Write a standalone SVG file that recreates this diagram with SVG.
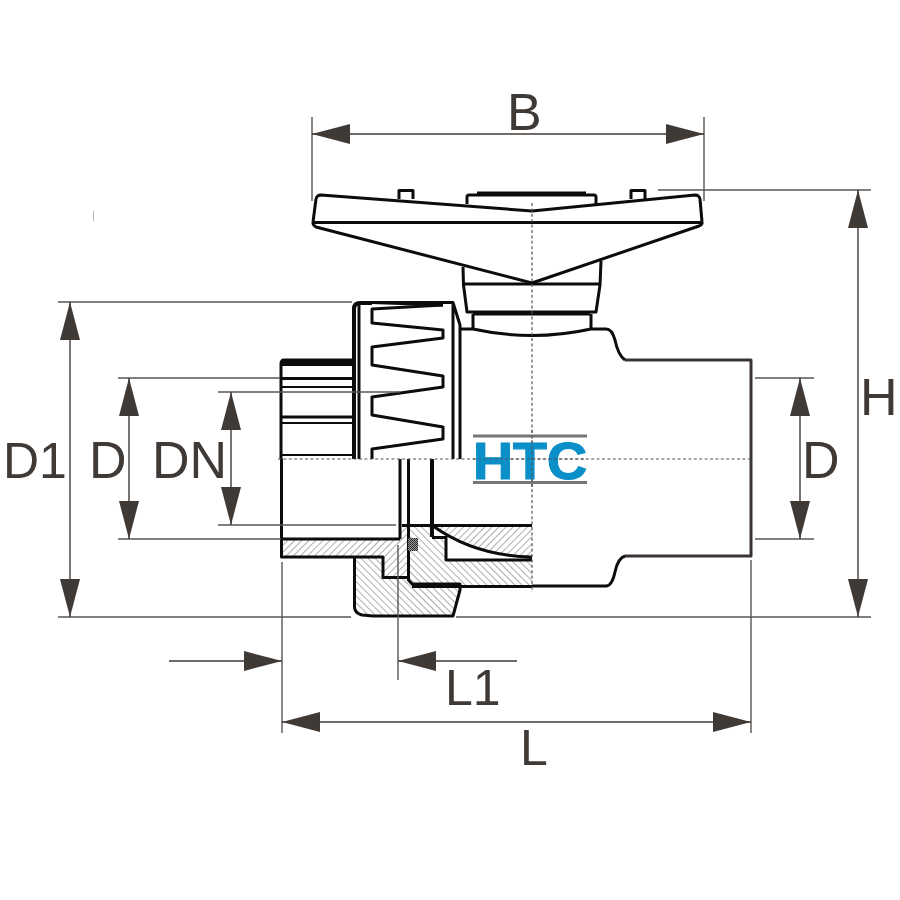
<svg xmlns="http://www.w3.org/2000/svg" width="900" height="900" viewBox="0 0 900 900">
<style>
.k{fill:none;stroke:#0d0b0b;stroke-width:3;stroke-linejoin:round}
.b{stroke:#3a3533}
.t{stroke-width:4}
.s{stroke-width:2}
.d{fill:none;stroke:#5a5552;stroke-width:1.4}
.c{fill:none;stroke:#555;stroke-width:1.2;stroke-dasharray:3 2.4}
.a{stroke:#403a37;stroke-width:1.4;fill:none;marker-start:url(#e);marker-end:url(#e)}
.o{stroke:#403a37;stroke-width:1.4;fill:none;marker-end:url(#e)}
text{font-family:"Liberation Sans",Arial,sans-serif;font-size:52px;fill:#403a37}
.m{font-size:50px}
</style>
<defs>
<marker id="e" viewBox="0 0 38 20" refX="38" refY="10" markerWidth="38" markerHeight="20" markerUnits="userSpaceOnUse" orient="auto-start-reverse"><path d="M0 0L38 10L0 20Z" fill="#403a37"/></marker>
<pattern id="hb" width="5" height="5" patternUnits="userSpaceOnUse" patternTransform="rotate(45)"><rect width="5" height="5" fill="#fff"/><path d="M0 0V5" stroke="#777" stroke-width="1.2"/></pattern>
<pattern id="hf" width="5" height="5" patternUnits="userSpaceOnUse" patternTransform="rotate(-45)"><rect width="5" height="5" fill="#fff"/><path d="M0 0V5" stroke="#777" stroke-width="1.2"/></pattern>
<pattern id="st" width="2" height="2" patternUnits="userSpaceOnUse"><rect width="2" height="2" fill="#999"/><rect width="1" height="1" fill="#222"/><rect x="1" y="1" width="1" height="1" fill="#333"/></pattern>
</defs>
<rect width="900" height="900" fill="#fff"/>
<g id="valve">
<g id="handle">
<path class="k" d="M399 199V190.500H413V199M631 199V190.500H645V199"/>
<path class="k t" d="M477 193.500H586"/>
<path class="k" d="M467 204V197Q467 195 469 195H594Q596 195 596 197V204"/>
<path class="k" d="M463 267L463.500 285L467 312H596L600 285L601 261M464 284H600"/>
<path class="k t" d="M473 313.500H590"/>
<path class="k" style="fill:#fff" d="M321 195L532 211L695 195Q699 195 700 199L702 222Q702.500 225 699 226L532 283L316 227Q312.500 225 313 222L316 199Q317 195 321 195Z"/>
<path class="k" d="M313 222.500H702"/>
</g>
<g id="body">
<path class="k" d="M473 314V329M591 314V329"/>
<path class="k" d="M460 329H473Q532 342 591 329H606Q612 329 615 340Q618 355 625 360"/>
<path class="k b" d="M625 360H751V556H625"/>
<path class="k" d="M625 556Q618 558 615 572Q612 586 606 586H412"/>
</g>
<g id="nut">
<path class="k t" d="M354 459V309Q354 303 360 303H372"/>
<path class="k" d="M359 459V305"/>
<path class="k" d="M372 302.500H453L460 325V459M453 303V459"/>
<path fill="#0d0b0b" d="M372 301H443V306.500L372 304Z"/>
<path class="k" d="M372 459V449L443 439V427L372 415V397L443 387V376L372 365V347L443 338V330L372 323V309L443 305"/>
</g>
<g id="stub">
<path class="k" d="M281 459V364Q281 360 284 360H354"/>
<path fill="#0d0b0b" d="M282 360H354V366H282Z"/>
<path class="k" d="M282 378.500H354M282 417H354"/>
<path class="k s" d="M282 387H354M282 423H354M282 455H354"/>
</g>
<g id="section">
<path fill="url(#hb)" d="M282 540H400V526H408V577H383V557H282Z"/>
<path fill="url(#hf)" d="M355 558H383V578H408V584L412 587H460L453 616H373L362 615Q355 613 355 608Z"/>
<path fill="url(#hf)" d="M410 526H432V538H446V560H532V586H412L410 582Z"/>
<path fill="url(#hb)" d="M434 526H532V557Q475 556 434 526Z"/>
<path class="k" d="M281.500 459V557H383V577.500H408"/>
<path class="k" d="M281.500 539H400M400 459V539"/>
<path class="k" d="M408.500 459V580L412 584H460V590L453 616H373L362 615Q354.500 613 354.500 607V558"/>
<path class="k t" d="M432 459V537"/>
<path class="k" d="M402 525.500H532M432 537.500H446V560H532M433 526Q475 556 532 557"/>
<path class="k" d="M412 586.500H532"/>
<rect x="408" y="538" width="10" height="13" fill="url(#st)"/>
</g>
</g>
<g id="connectors">
<path class="c" d="M278 459H751M532 203V592"/>
<path class="d" d="M312 117V201M704 117V201M658 190H871M456 617H871M58 302H352M58 617H351M118 378H280M118 539H281M218 392H400M218 525H396M755 378H814M755 539H814M282 562V733M751 560V733M398 545V680"/>
<path class="a" d="M312 134H704"/>
<path class="a" d="M858 190V617"/>
<path class="a" d="M70 302V617"/>
<path class="a" d="M129 378V539"/>
<path class="a" d="M231 392V525"/>
<path class="a" d="M800 378V539"/>
<path class="a" d="M282 722H751"/>
<path class="o" d="M169 661H282"/>
<path class="o" d="M517 661H398"/>
<path d="M93.500 211V221" stroke="#bbb" stroke-width="1"/>
</g>
<g id="logo">
<path d="M473 436H587M473 482.500H587" stroke="#777" stroke-width="3" fill="none"/>
<text x="473" y="478.500" textLength="114" lengthAdjust="spacingAndGlyphs" style="font-size:52px;font-weight:bold;fill:#0a8fc9;stroke:#0a8fc9;stroke-width:1.2">HTC</text>
<path class="c" d="M473 459H587M532 430V490"/>
</g>
<g id="labels">
<text x="507" y="130">B</text>
<text class="m" x="3" y="478">D1</text>
<text x="89" y="478">D</text>
<text x="152" y="478">DN</text>
<text x="860" y="415">H</text>
<text x="802" y="478">D</text>
<text class="m" x="445" y="705">L1</text>
<text class="m" x="520" y="765">L</text>
</g>
</svg>
